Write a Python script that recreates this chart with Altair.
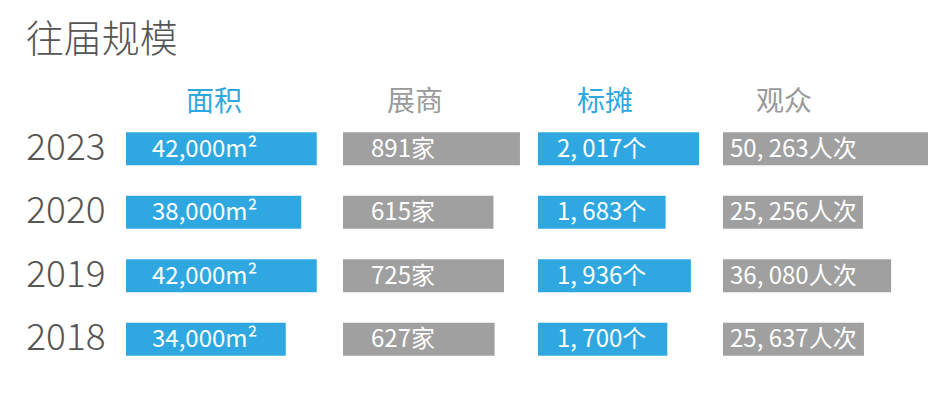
import altair as alt
import pandas as pd

years = ["2023", "2020", "2019", "2018"]
headers = ["面积", "展商", "标摊", "观众"]

area = [42000, 38000, 42000, 34000]
area_labels = ["42,000m²", "38,000m²", "42,000m²", "34,000m²"]

exhibitors = [891, 615, 725, 627]
exhibitor_labels = ["891家", "615家", "725家", "627家"]

booths = [2017, 1683, 1936, 1700]
booth_labels = ["2, 017个", "1, 683个", "1, 936个", "1, 700个"]

visitors = [50263, 25256, 36080, 25637]
visitor_labels = ["50, 263人次", "25, 256人次", "36, 080人次", "25, 637人次"]

# per-column axis domains (bar baseline, end of column)
domain_lo = [-7226, -952, 407, -28577]
domain_hi = [48774, 1079, 2257, 52192]

BLUE = "#2fa8e1"
GRAY = "#a0a0a0"
TEXT = "#555555"
FONT = "Noto Sans CJK SC"


def panel(values, labels, header, color, header_color, lo, hi, width, label_dx, head_dx, show_years):
    df = pd.DataFrame({"year": years, "value": values, "label": labels, "base": [lo] * len(years)})
    xscale = alt.Scale(domain=[lo, hi], zero=False, nice=False)
    if show_years:
        yaxis = alt.Axis(labelFontSize=37, labelColor=TEXT, labelFont=FONT, labelFontWeight=300,
                         ticks=False, domain=False, labelPadding=21, title=None)
    else:
        yaxis = None
    y = alt.Y("year:N", sort=years, axis=yaxis,
              scale=alt.Scale(paddingInner=0.48, paddingOuter=0.24))
    bars = alt.Chart(df).mark_bar(color=color).encode(
        x=alt.X("value:Q", scale=xscale, axis=None),
        x2="base:Q",
        y=y,
    )
    text = alt.Chart(df).mark_text(align="left", baseline="middle", dx=label_dx, dy=1,
                                   color="white", fontSize=24, font=FONT).encode(
        x=alt.X("base:Q", scale=xscale, axis=None),
        y=y,
        text="label:N",
    )
    return alt.layer(bars, text).properties(
        width=width, height=254,
        title=alt.TitleParams(header, color=header_color, fontSize=28, font=FONT,
                              fontWeight="normal", anchor="start", frame="group",
                              dx=head_dx, offset=0),
    )


p1 = panel(area, area_labels, headers[0], BLUE, BLUE, domain_lo[0], domain_hi[0], 217, 26, 60, True)
p2 = panel(exhibitors, exhibitor_labels, headers[1], GRAY, "#9a9a9a", domain_lo[1], domain_hi[1], 195, 28, 44, False)
p3 = panel(booths, booth_labels, headers[2], BLUE, BLUE, domain_lo[2], domain_hi[2], 185, 19, 39, False)
p4 = panel(visitors, visitor_labels, headers[3], GRAY, "#9a9a9a", domain_lo[3], domain_hi[3], 210, 7, 33, False)

chart = alt.hconcat(p1, p2, p3, p4, spacing=0).properties(
    title=alt.TitleParams("往届规模", fontSize=38, font=FONT, fontWeight=300, color=TEXT,
                          anchor="start", offset=29),
    padding={"left": 17, "top": 14, "right": 5, "bottom": 5},
).configure_view(stroke=None)

chart.save("out.html", embed_options={"renderer": "svg", "actions": False})
